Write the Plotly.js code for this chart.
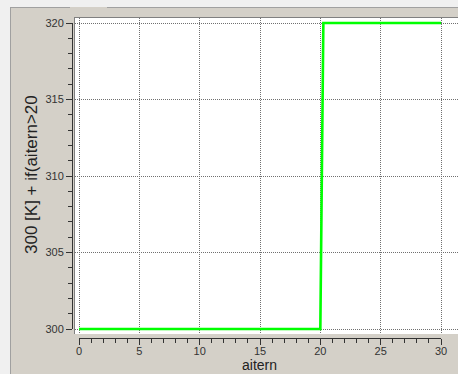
<!DOCTYPE html>
<html>
<head>
<meta charset="utf-8">
<script src="https://cdn.plot.ly/plotly-3.0.1.min.js"></script>
<style>html,body{margin:0;padding:0;background:#f0f0f0;}#chart{width:458px;height:374px;}</style>
</head>
<body>
<div id="chart"></div>
<script>
// Data
const aitern = [0, 20, 20.25, 30];
const value = [300, 300, 320, 320];
const xTitle = "aitern";
const yTitle = "300 [K] + if(aitern>20";

const W = 458, H = 374;
const fx = px => px / W;
const fy = py => 1 - py / H;

// pixel geometry
const X0 = 79, X30 = 441;   // x=0 and x=30
const Y320 = 23, Y300 = 329; // y=320 and y=300
const pxPerX = (X30 - X0) / 30;
const pxPerY = (Y300 - Y320) / 20;
const whiteL = 75, whiteR = 458, whiteT = 18, whiteB = 334;

const font = "Liberation Sans, Arial, sans-serif";

const traces = [
  {
    x: aitern, y: value, xaxis: 'x', yaxis: 'y',
    mode: 'lines', line: {color: '#00ff00', width: 2.6},
    hoverinfo: 'skip', showlegend: false
  },
  {
    x: aitern, y: value, xaxis: 'x2', yaxis: 'y2',
    mode: 'lines', line: {color: 'rgba(0,0,0,0)', width: 0},
    opacity: 0, hoverinfo: 'skip', showlegend: false
  }
];

const layout = {
  width: W, height: H,
  margin: {l: 0, r: 0, t: 0, b: 0},
  paper_bgcolor: '#f0f0f0',
  plot_bgcolor: 'rgba(0,0,0,0)',
  showlegend: false,
  xaxis: {
    domain: [fx(whiteL), fx(whiteR)],
    range: [(whiteL - X0) / pxPerX, (whiteR - X0) / pxPerX],
    showgrid: true, gridcolor: '#707070', griddash: '1px,1px', gridwidth: 1,
    tick0: 0, dtick: 5, showticklabels: false, ticks: '',
    zeroline: false, showline: false, anchor: 'y', fixedrange: true
  },
  yaxis: {
    domain: [fy(whiteB), fy(whiteT)],
    range: [300 - (whiteB - Y300) / pxPerY, 320 + (Y320 - whiteT) / pxPerY],
    showgrid: true, gridcolor: '#707070', griddash: '1px,1px', gridwidth: 1,
    tick0: 300, dtick: 5, showticklabels: false, ticks: '',
    zeroline: false, showline: false, anchor: 'x', fixedrange: true
  },
  xaxis2: {
    domain: [fx(X0), fx(X30)],
    range: [0, 30], anchor: 'free', position: fy(338),
    showgrid: false, zeroline: false,
    showline: true, linecolor: '#333', linewidth: 1,
    ticks: 'outside', ticklen: 6, tickwidth: 1, tickcolor: '#333',
    tick0: 0, dtick: 5, ticklabelstandoff: -3,
    minor: {ticks: 'outside', ticklen: 4, tickwidth: 1, tickcolor: '#333', dtick: 1, showgrid: false},
    tickfont: {family: font, size: 11, color: '#333'},
    fixedrange: true
  },
  yaxis2: {
    domain: [fy(Y300), fy(Y320)],
    range: [300, 320], anchor: 'free', position: fx(72), side: 'left',
    showgrid: false, zeroline: false,
    showline: true, linecolor: '#333', linewidth: 1,
    ticks: 'outside', ticklen: 6, tickwidth: 1, tickcolor: '#333',
    tick0: 300, dtick: 5,
    minor: {ticks: 'outside', ticklen: 4, tickwidth: 1, tickcolor: '#333', dtick: 1, showgrid: false},
    tickfont: {family: font, size: 11, color: '#333'},
    fixedrange: true
  },
  shapes: [
    // panel
    {type: 'rect', xref: 'paper', yref: 'paper', layer: 'below',
     x0: fx(10), x1: fx(W + 2), y0: fy(H + 2), y1: fy(7),
     fillcolor: '#d4d0c8', line: {width: 0}},
    {type: 'line', xref: 'paper', yref: 'paper', layer: 'below',
     x0: fx(10.5), x1: fx(10.5), y0: fy(H + 2), y1: fy(7),
     line: {color: '#a0a0a0', width: 1}},
    {type: 'line', xref: 'paper', yref: 'paper', layer: 'below',
     x0: fx(10), x1: fx(70), y0: fy(7.5), y1: fy(7.5),
     line: {color: '#a0a0a0', width: 1}},
    {type: 'line', xref: 'paper', yref: 'paper', layer: 'below',
     x0: fx(107), x1: fx(W + 2), y0: fy(7.5), y1: fy(7.5),
     line: {color: '#a0a0a0', width: 1}},
    // white plot region
    {type: 'rect', xref: 'paper', yref: 'paper', layer: 'below',
     x0: fx(whiteL), x1: fx(W + 2), y0: fy(whiteB), y1: fy(whiteT),
     fillcolor: '#ffffff', line: {width: 0}},
    {type: 'line', xref: 'paper', yref: 'paper', layer: 'below',
     x0: fx(74), x1: fx(W + 2), y0: fy(17.5), y1: fy(17.5),
     line: {color: '#808080', width: 1}},
    {type: 'line', xref: 'paper', yref: 'paper', layer: 'below',
     x0: fx(74.5), x1: fx(74.5), y0: fy(whiteB), y1: fy(17),
     line: {color: '#808080', width: 1}}
  ],
  annotations: [
    {text: xTitle, xref: 'paper', yref: 'paper', x: fx(259), y: 0,
     xanchor: 'center', yanchor: 'bottom', showarrow: false, borderpad: 0,
     font: {family: font, size: 14, color: '#222'}},
    {text: yTitle, xref: 'paper', yref: 'paper', x: fx(31), y: fy(175),
     xanchor: 'center', yanchor: 'middle', textangle: -90, showarrow: false,
     font: {family: font, size: 17, color: '#222'}}
  ]
};

Plotly.newPlot('chart', traces, layout, {staticPlot: true, displayModeBar: false});
</script>
</body>
</html>
